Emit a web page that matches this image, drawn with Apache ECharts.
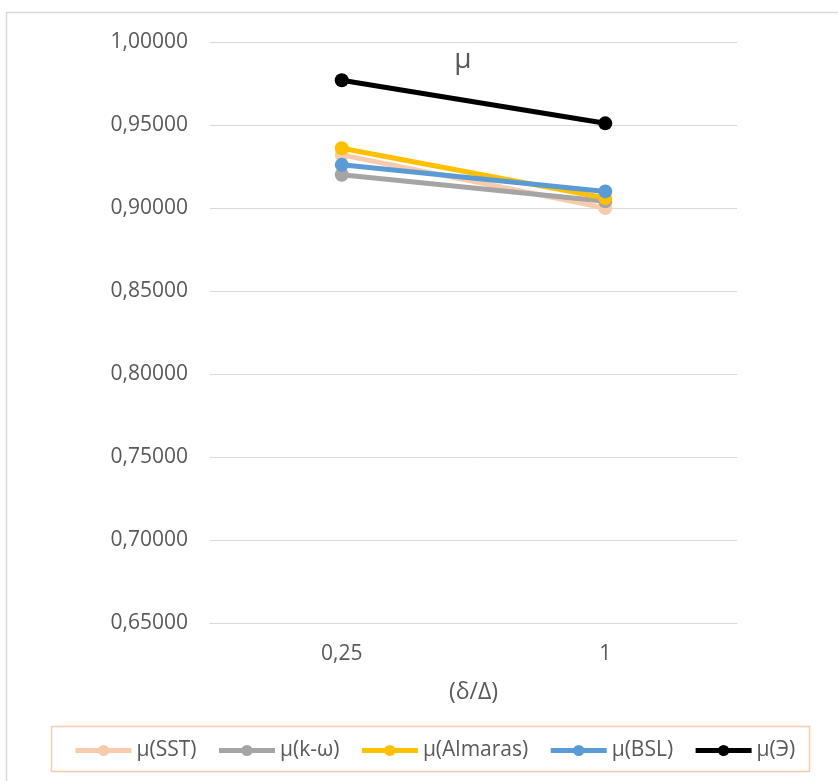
<!DOCTYPE html>
<html>
<head>
<meta charset="utf-8">
<script src="https://cdn.jsdelivr.net/npm/echarts@6/dist/echarts.min.js"></script>
<style>
  html, body { margin: 0; padding: 0; background: #ffffff; }
  #chart { width: 838px; height: 781px; }
</style>
</head>
<body>
<div id="chart"></div>
<script>
// Relative thickness (δ/Δ)
const categories = ['0,25', '1'];

// μ for each turbulence model and the experiment
const seriesNames = ['μ(SST)', 'μ(k-ω)', 'μ(Almaras)', 'μ(BSL)', 'μ(Э)'];
const muSST = [0.932, 0.900];
const muKOmega = [0.920, 0.904];
const muAlmaras = [0.936, 0.906];
const muBSL = [0.926, 0.910];
const muExp = [0.977, 0.951];

const seriesColors = ['#F8CBAD', '#A5A5A5', '#FFC000', '#5B9BD5', '#000000'];
const seriesValues = [muSST, muKOmega, muAlmaras, muBSL, muExp];

const textColor = '#595959';
const fontFamily = '"Open Sans", "Noto Sans", sans-serif';

const chart = echarts.init(document.getElementById('chart'), null, { renderer: 'canvas' });

const option = {
  animation: false,
  backgroundColor: '#ffffff',
  textStyle: { fontFamily: fontFamily },
  title: {
    text: 'μ',
    left: 458,
    top: 41,
    textAlign: 'center',
    textStyle: { color: textColor, fontSize: 28, fontWeight: 'normal', fontFamily: fontFamily }
  },
  grid: { left: 210, right: 101, top: 42, bottom: 158, containLabel: false },
  xAxis: {
    type: 'category',
    data: categories,
    boundaryGap: true,
    name: '(δ/Δ)',
    nameLocation: 'middle',
    nameGap: 58,
    nameTextStyle: { color: textColor, fontSize: 23, fontFamily: fontFamily },
    axisLine: { show: true, lineStyle: { color: '#d9d9d9', width: 1 } },
    axisTick: { show: false },
    axisLabel: { color: textColor, fontSize: 21, margin: 21, fontFamily: fontFamily },
    splitLine: { show: false }
  },
  yAxis: {
    type: 'value',
    min: 0.65,
    max: 1.0,
    interval: 0.05,
    axisLine: { show: false },
    axisTick: { show: false },
    axisLabel: {
      color: textColor,
      fontSize: 21,
      margin: 22,
      fontFamily: fontFamily,
      formatter: v => v.toFixed(5).replace('.', ',')
    },
    splitLine: { show: true, lineStyle: { color: '#d9d9d9', width: 1 } }
  },
  legend: {
    data: seriesNames,
    left: 73,
    top: 740,
    itemWidth: 56,
    itemHeight: 14,
    itemGap: 20,
    padding: 0,
    lineStyle: { width: 5 },
    textStyle: { color: textColor, fontSize: 21, fontFamily: fontFamily }
  },
  graphic: [
    {
      type: 'rect',
      z: -10,
      shape: { x: 6.5, y: 12.5, width: 1200, height: 1200 },
      style: { fill: 'none', stroke: '#d9d9d9', lineWidth: 1.5 },
      silent: true
    },
    {
      type: 'rect',
      z: -5,
      shape: { x: 51.5, y: 726.5, width: 758, height: 45 },
      style: { fill: 'none', stroke: '#F8CBAD', lineWidth: 1.5 },
      silent: true
    }
  ],
  series: seriesNames.map((name, i) => ({
    name: name,
    type: 'line',
    data: seriesValues[i],
    symbol: 'circle',
    symbolSize: 14,
    showSymbol: true,
    z: 2 + i,
    itemStyle: { color: seriesColors[i] },
    lineStyle: { color: seriesColors[i], width: 5 },
    emphasis: { disabled: true }
  }))
};

chart.setOption(option);
</script>
</body>
</html>
